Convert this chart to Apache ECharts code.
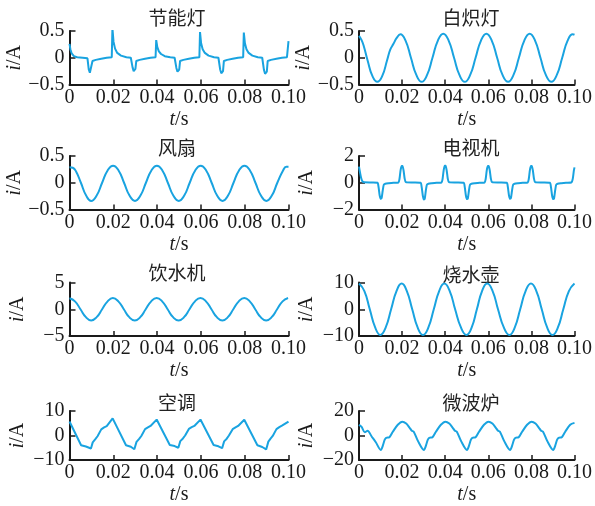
<!DOCTYPE html>
<html><head><meta charset="utf-8">
<script src="https://cdn.jsdelivr.net/npm/echarts@6/dist/echarts.min.js"></script>
<style>html,body{margin:0;padding:0;background:#fff}#c{width:595px;height:506px}</style>
</head><body><div id="c"></div>
<script>
const titles = ['节能灯','白炽灯','风扇','电视机','饮水机','烧水壶','空调','微波炉'];
const xTicks = [0, 0.02, 0.04, 0.06, 0.08, 0.10];
const yRanges = [[-0.5,0.5],[-0.5,0.5],[-0.5,0.5],[-2,2],[-5,5],[-10,10],[-10,10],[-20,20]];

const cflCurrent = [
[0,0.26],[0.0004,0.16],[0.001,0.08],[0.002,0.03],[0.0035,0.01],[0.006,0],[0.0082,-0.01],
[0.0088,-0.22],[0.0093,-0.28],[0.0097,-0.30],[0.0101,-0.25],[0.0105,-0.06],[0.012,-0.04],[0.0145,-0.02],[0.017,0],[0.0193,0.01],
[0.0196,0.55],[0.0201,0.30],[0.0208,0.17],[0.0218,0.09],[0.0235,0.04],[0.026,0.01],[0.028,0],
[0.0283,-0.01],[0.0288,-0.18],[0.0293,-0.25],[0.0297,-0.26],[0.0301,-0.21],[0.0305,-0.06],[0.032,-0.04],[0.0345,-0.02],[0.037,0],[0.0393,0.01],
[0.0396,0.33],[0.0401,0.20],[0.0408,0.12],[0.0418,0.07],[0.0435,0.03],[0.046,0.01],[0.048,0],
[0.0483,-0.01],[0.0488,-0.19],[0.0493,-0.26],[0.0497,-0.27],[0.0501,-0.22],[0.0505,-0.06],[0.052,-0.04],[0.0545,-0.02],[0.057,0],[0.0593,0.01],
[0.0596,0.48],[0.0601,0.27],[0.0608,0.16],[0.0618,0.09],[0.0635,0.04],[0.066,0.01],[0.068,0],
[0.0683,-0.01],[0.0688,-0.22],[0.0693,-0.29],[0.0697,-0.31],[0.0701,-0.25],[0.0705,-0.06],[0.072,-0.04],[0.0745,-0.02],[0.077,0],[0.0793,0.01],
[0.0796,0.47],[0.0801,0.27],[0.0808,0.16],[0.0818,0.09],[0.0835,0.04],[0.086,0.01],[0.088,0],
[0.0883,-0.01],[0.0888,-0.23],[0.0893,-0.30],[0.0897,-0.32],[0.0901,-0.26],[0.0905,-0.06],[0.092,-0.04],[0.0945,-0.02],[0.097,0],[0.0993,0.01],
[0.1,0.31]
];

const incandescentCurrent = [
[0,0.41],[0.0012,0.33],[0.0022,0.22],[0.004,-0.05],[0.0062,-0.34],[0.0085,-0.45],[0.0108,-0.34],[0.013,-0.05],[0.0145,0.15],[0.016,0.26],[0.0175,0.37],[0.0192,0.44],
[0.0216,0.32],[0.0241,0],[0.0266,-0.32],[0.0291,-0.45],[0.0316,-0.32],[0.0341,0],[0.0366,0.32],[0.0391,0.45],
[0.0416,0.32],[0.0441,0],[0.0466,-0.32],[0.0491,-0.45],[0.0516,-0.32],[0.0541,0],[0.0566,0.32],[0.0591,0.45],
[0.0616,0.32],[0.0641,0],[0.0666,-0.32],[0.0692,-0.45],[0.0717,-0.32],[0.0742,0],[0.0767,0.32],[0.0792,0.45],
[0.0817,0.32],[0.0842,0],[0.0867,-0.32],[0.0893,-0.45],[0.0918,-0.32],[0.0943,0],[0.0968,0.32],[0.0992,0.44],[0.1,0.43]
];

const fanCurrent = [
[0,0.29],[0.0015,0.28],[0.003,0.21],[0.0052,0],[0.0076,-0.24],[0.0099,-0.34],[0.0124,-0.24],[0.0149,0],[0.0174,0.23],[0.0199,0.32],
[0.0224,0.23],[0.0249,0],[0.0274,-0.24],[0.0299,-0.34],[0.0324,-0.24],[0.0349,0],[0.0374,0.23],[0.0399,0.32],
[0.0424,0.23],[0.0449,0],[0.0474,-0.24],[0.0499,-0.34],[0.0524,-0.24],[0.0549,0],[0.0574,0.23],[0.0599,0.32],
[0.0624,0.23],[0.0649,0],[0.0674,-0.24],[0.0699,-0.34],[0.0724,-0.24],[0.0749,0],[0.0774,0.23],[0.0799,0.32],
[0.0824,0.23],[0.0849,0],[0.0874,-0.24],[0.0899,-0.34],[0.0924,-0.24],[0.0949,0],[0.0974,0.22],[0.099,0.3],[0.1,0.3]
];

const tvCurrent = [
[0,1.2],[0.0005,0.75],[0.001,0.35],[0.0016,0.1],[0.0025,0.03],[0.006,0.02],[0.0086,0],
[0.0091,-0.35],[0.0096,-0.95],[0.0101,-1.2],[0.0105,-1.15],[0.011,-0.6],[0.0115,-0.15],[0.0122,-0.08],[0.0138,-0.04],[0.016,0],[0.0183,0.02],
[0.0188,0.3],[0.0193,0.95],[0.0198,1.25],[0.0202,1.25],[0.0207,0.9],[0.0212,0.3],[0.0217,0.05],[0.025,0.02],[0.0286,0],
[0.0291,-0.35],[0.0296,-0.95],[0.0301,-1.25],[0.0305,-1.2],[0.031,-0.6],[0.0315,-0.15],[0.0322,-0.08],[0.0338,-0.04],[0.036,0],[0.0383,0.02],
[0.0388,0.3],[0.0393,0.95],[0.0398,1.27],[0.0402,1.27],[0.0407,0.9],[0.0412,0.3],[0.0417,0.05],[0.045,0.02],[0.0486,0],
[0.0491,-0.35],[0.0496,-0.95],[0.0501,-1.22],[0.0505,-1.17],[0.051,-0.6],[0.0515,-0.15],[0.0522,-0.08],[0.0538,-0.04],[0.056,0],[0.0583,0.02],
[0.0588,0.3],[0.0593,0.95],[0.0598,1.25],[0.0602,1.25],[0.0607,0.9],[0.0612,0.3],[0.0617,0.05],[0.065,0.02],[0.0686,0],
[0.0691,-0.35],[0.0696,-0.95],[0.0701,-1.2],[0.0705,-1.15],[0.071,-0.6],[0.0715,-0.15],[0.0722,-0.08],[0.0738,-0.04],[0.076,0],[0.0783,0.02],
[0.0788,0.3],[0.0793,0.95],[0.0798,1.25],[0.0802,1.25],[0.0807,0.9],[0.0812,0.3],[0.0817,0.05],[0.085,0.02],[0.0886,0],
[0.0891,-0.35],[0.0896,-0.95],[0.0901,-1.22],[0.0905,-1.17],[0.091,-0.6],[0.0915,-0.15],[0.0922,-0.08],[0.0938,-0.04],[0.096,0],[0.0985,0.02],
[0.0992,0.3],[0.0997,0.9],[0.1,1.15]
];

const dispenserCurrent = [
[0,2.05],[0.0025,1.47],[0.005,0],[0.0075,-1.48],[0.0099,-2.1],[0.0124,-1.48],[0.0149,0],[0.0174,1.48],[0.0198,2.1],
[0.0223,1.48],[0.0248,0],[0.0273,-1.48],[0.0298,-2.1],[0.0323,-1.48],[0.0348,0],[0.0373,1.48],[0.0398,2.1],
[0.0423,1.48],[0.0448,0],[0.0473,-1.48],[0.0498,-2.1],[0.0523,-1.48],[0.0548,0],[0.0573,1.48],[0.0598,2.1],
[0.0623,1.48],[0.0648,0],[0.0673,-1.48],[0.0698,-2.1],[0.0723,-1.48],[0.0748,0],[0.0773,1.48],[0.0798,2.1],
[0.0823,1.48],[0.0848,0],[0.0873,-1.48],[0.0898,-2.1],[0.0923,-1.48],[0.0948,0],[0.0973,1.48],[0.0998,2.1]
];

const kettleCurrent = [
[0,9.6],[0.0025,6.8],[0.005,0],[0.0075,-6.8],[0.0099,-9.6],[0.0124,-6.8],[0.0149,0],[0.0174,6.8],[0.0198,9.6],
[0.0222,6.8],[0.0247,0],[0.0272,-6.8],[0.0297,-9.6],[0.0322,-6.8],[0.0347,0],[0.0372,6.8],[0.0396,9.6],
[0.0421,6.8],[0.0446,0],[0.0473,-6.8],[0.0499,-9.6],[0.0523,-6.8],[0.0547,0],[0.0571,6.8],[0.0595,9.6],
[0.062,6.8],[0.0645,0],[0.0672,-6.8],[0.0698,-9.6],[0.0723,-6.8],[0.0748,0],[0.0773,6.8],[0.0798,9.6],
[0.0823,6.8],[0.0848,0],[0.0873,-6.8],[0.0898,-9.6],[0.0923,-6.8],[0.0948,0],[0.0974,6.8],[0.1,9.6]
];

const acCurrent = [
[0,5.7],[0.0053,-4.0],[0.0075,-4.5],[0.0098,-5.3],[0.0106,-2.8],[0.0118,-1.5],[0.0128,-0.3],[0.0145,2.5],[0.0158,3.3],[0.017,3.8],[0.0197,7.0],
[0.0258,-4.0],[0.028,-4.6],[0.0296,-5.6],[0.0306,-2.6],[0.0318,-1.4],[0.0328,-0.2],[0.0345,2.6],[0.0358,3.3],[0.037,3.9],[0.0398,6.5],
[0.0458,-3.9],[0.048,-4.3],[0.0497,-5.0],[0.0506,-2.3],[0.0518,-1.2],[0.0528,0],[0.0545,2.7],[0.0558,3.4],[0.057,3.9],[0.0598,6.5],
[0.0658,-3.9],[0.068,-4.4],[0.0697,-5.2],[0.0706,-2.4],[0.0718,-1.3],[0.0728,0],[0.0745,2.6],[0.0758,3.3],[0.077,3.9],[0.0798,6.4],
[0.0858,-4.0],[0.088,-4.7],[0.0898,-5.7],[0.0908,-2.5],[0.0918,-1.3],[0.0928,-0.2],[0.0945,2.6],[0.0958,3.4],[0.097,4.0],[0.1,5.7]
];

const microwaveCurrent = [
[0,8.8],[0.0012,7.0],[0.0027,2.6],[0.004,3.9],[0.0058,-0.6],[0.0078,-5.5],[0.0101,-11.8],
[0.0111,-8.1],[0.0119,-3.6],[0.0126,-1.9],[0.0141,-1.4],[0.0157,3.1],[0.018,8.8],[0.0201,11.3],
[0.0219,9.8],[0.0235,6.3],[0.0245,3.9],[0.0254,3.1],[0.0273,-4.3],[0.0301,-11.8],
[0.0311,-8.1],[0.0319,-3.6],[0.0326,-1.9],[0.0341,-1.4],[0.0357,3.1],[0.038,8.8],[0.0401,11.3],
[0.0419,9.8],[0.0435,6.3],[0.0445,3.9],[0.0454,3.1],[0.0473,-4.3],[0.0501,-11.8],
[0.0511,-8.1],[0.0519,-3.6],[0.0526,-1.9],[0.0541,-1.4],[0.0557,3.1],[0.058,8.8],[0.0601,11.3],
[0.0619,9.8],[0.0635,6.3],[0.0645,3.9],[0.0654,3.1],[0.0673,-4.3],[0.0701,-11.8],
[0.0711,-8.1],[0.0719,-3.6],[0.0726,-1.9],[0.0741,-1.4],[0.0757,3.1],[0.078,8.8],[0.0801,11.3],
[0.0819,9.8],[0.0835,6.3],[0.0845,3.9],[0.0854,3.1],[0.0873,-4.3],[0.0901,-11.8],
[0.0911,-8.1],[0.0919,-3.6],[0.0926,-1.9],[0.0941,-1.4],[0.0957,3.1],[0.098,8.8],[0.1,10.3]
];

const allSeries = [cflCurrent, incandescentCurrent, fanCurrent, tvCurrent, dispenserCurrent, kettleCurrent, acCurrent, microwaveCurrent];
const smoothness = [0, 0.5, 0.5, 0.2, 0.5, 0.5, 0, 0.3];

// layout
const colLeft = [69.5, 359];
const rowTop = [31, 156, 282.5, 411];
const plotW = 219, plotH = 53.5;
const titleX = [177, 471];
const titleY = [[18, 18], [148, 148], [273, 275], [403, 403]];

const serif = "'Liberation Serif','Times New Roman',serif";
const cjk = "'Noto Sans CJK SC','Noto Sans',sans-serif";
const ink = '#1a1a1a';
const lineColor = '#19a3e0';
const fs = 20;

const grids = [], xAxes = [], yAxes = [], series = [], graphics = [];
for (let i = 0; i < 8; i++) {
  const c = i % 2, r = Math.floor(i / 2);
  grids.push({left: colLeft[c], top: rowTop[r], width: plotW, height: plotH, containLabel: false});
  xAxes.push({
    type: 'value', gridIndex: i, min: xTicks[0], max: xTicks[xTicks.length - 1], interval: 0.02,
    axisLine: {onZero: false, lineStyle: {color: ink, width: 2}},
    axisTick: {inside: true, length: 5, lineStyle: {color: ink, width: 1.5}},
    splitLine: {show: false},
    axisLabel: {color: ink, fontFamily: serif, fontSize: fs, margin: 3,
      formatter: v => v === 0 ? '0' : v.toFixed(2)},
    name: '{it|t}/s', nameLocation: 'middle', nameGap: 25,
    nameTextStyle: {color: ink, fontFamily: serif, fontSize: fs,
      rich: {it: {fontStyle: 'italic', fontFamily: serif, fontSize: fs, color: ink}}}
  });
  const [lo, hi] = yRanges[i];
  yAxes.push({
    type: 'value', gridIndex: i, min: lo, max: hi, interval: (hi - lo) / 2,
    axisLine: {show: true, lineStyle: {color: ink, width: 2}},
    axisTick: {show: true, inside: true, length: 6, lineStyle: {color: ink, width: 1.5}},
    splitLine: {show: false},
    axisLabel: {color: ink, fontFamily: serif, fontSize: fs, margin: 5,
      formatter: v => v < 0 ? '\u2212' + Math.abs(v) : String(v)},
    name: '{it|i}/A', nameLocation: 'middle', nameGap: 42, nameRotate: 90,
    nameTextStyle: {color: ink, fontFamily: serif, fontSize: fs,
      rich: {it: {fontStyle: 'italic', fontFamily: serif, fontSize: fs, color: ink}}}
  });
  series.push({
    type: 'line', xAxisIndex: i, yAxisIndex: i, data: allSeries[i],
    showSymbol: false, smooth: smoothness[i] || false,
    lineStyle: {color: lineColor, width: 2}, animation: false
  });
  graphics.push({
    type: 'text', x: titleX[c], y: titleY[r][c],
    style: {text: titles[i], font: "19px " + cjk, fill: '#222', textAlign: 'center', textVerticalAlign: 'middle'}
  });
}

const chart = echarts.init(document.getElementById('c'), null, {renderer: 'canvas'});
chart.setOption({
  backgroundColor: '#fff',
  animation: false,
  grid: grids, xAxis: xAxes, yAxis: yAxes, series: series, graphic: graphics
});
</script>
</body></html>
